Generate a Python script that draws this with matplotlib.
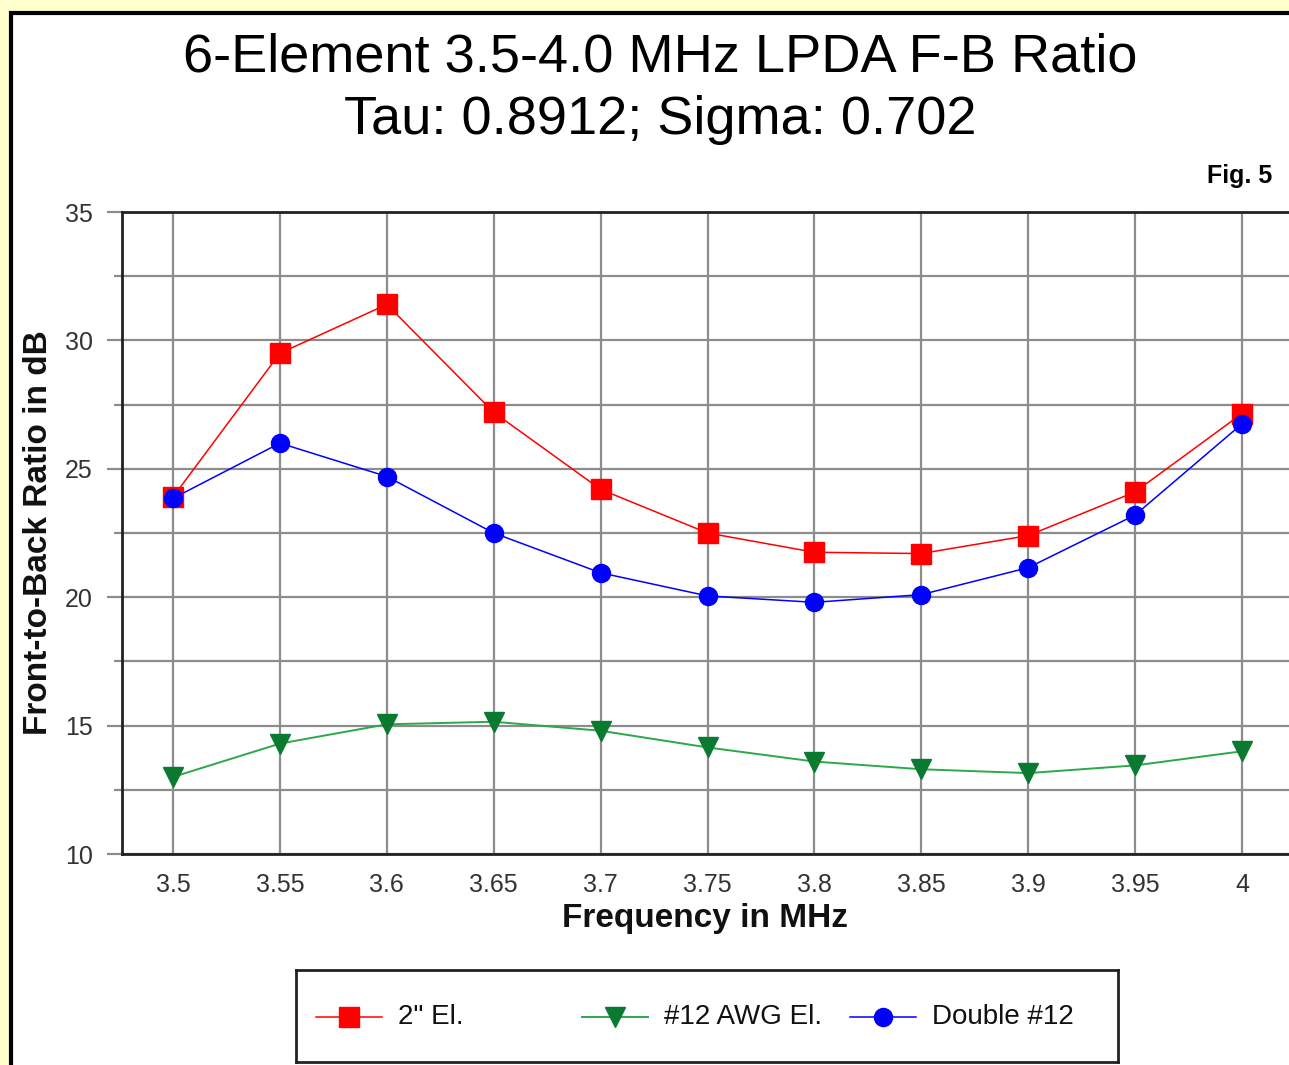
import matplotlib
matplotlib.use("Agg")
import matplotlib.pyplot as plt
from matplotlib.patches import Rectangle
from matplotlib.lines import Line2D

freq = [3.5, 3.55, 3.6, 3.65, 3.7, 3.75, 3.8, 3.85, 3.9, 3.95, 4.0]
el_2in = [23.9, 29.5, 31.4, 27.2, 24.2, 22.5, 21.75, 21.7, 22.4, 24.1, 27.15]
awg12 = [13.0, 14.3, 15.05, 15.15, 14.8, 14.15, 13.6, 13.3, 13.15, 13.45, 14.0]
double12 = [23.85, 26.0, 24.7, 22.5, 20.95, 20.05, 19.8, 20.1, 21.15, 23.2, 26.75]
xticks = [3.5, 3.55, 3.6, 3.65, 3.7, 3.75, 3.8, 3.85, 3.9, 3.95, 4.0]
xtick_labels = ["3.5", "3.55", "3.6", "3.65", "3.7", "3.75", "3.8", "3.85", "3.9", "3.95", "4"]
yticks = [10, 15, 20, 25, 30, 35]
labels = ['2" El.', '#12 AWG El.', 'Double #12']

plt.rcParams['font.family'] = ['Liberation Sans', 'DejaVu Sans']

W, H = 1289, 1065
fig = plt.figure(figsize=(W / 100, H / 100), dpi=100)
fig.patch.set_facecolor('#FFFFCC')

# white panel with black border
panel = Rectangle((11 / W, -0.02), 1 - 11 / W + 0.02, 1.02 - 13 / H, transform=fig.transFigure,
                  facecolor='white', edgecolor='black', linewidth=3, zorder=-5)
fig.patches.append(panel)

fig.text(660 / W, 1 - 57 / H, "6-Element 3.5-4.0 MHz LPDA F-B Ratio", ha='center', va='center',
         fontsize=39)
fig.text(660 / W, 1 - 120 / H, "Tau: 0.8912; Sigma: 0.702", ha='center', va='center', fontsize=39)
fig.text(1272 / W, 1 - 176 / H, "Fig. 5", ha='right', va='center', fontsize=18, fontweight='bold')

px = 2138.0  # pixels per MHz
xl = 3.5 - (173 - 122) / px
xr = 4.0 + (1289 - 1242) / px
ax = fig.add_axes([122 / W, 1 - 854 / H, 1 - 122 / W, (854 - 212) / H])
ax.set_facecolor('none')
ax.set_xlim(xl, xr)
ax.set_ylim(10, 35)

ax.set_xticks(xticks)
ax.set_xticklabels(xtick_labels)
ax.set_yticks(yticks)
ax.set_yticks([12.5, 17.5, 22.5, 27.5, 32.5], minor=True)
ax.grid(True, which='both', color='#8c8c8c', linewidth=1.6, zorder=1)
ax.tick_params(axis='x', length=0, pad=14, labelsize=18, labelcolor='#333333')
ax.tick_params(axis='y', which='major', length=11, width=1.6, color='#8c8c8c', pad=10,
               labelsize=18, labelcolor='#333333')
ax.tick_params(axis='y', which='minor', length=6, width=1.6, color='#8c8c8c')
for s in ['left', 'bottom', 'top']:
    ax.spines[s].set_color('#222222')
    ax.spines[s].set_linewidth(2)
ax.spines['right'].set_visible(False)
ax.set_axisbelow(True)

red = '#FF0000'
green_line = '#2BA84A'
green_mk = '#0A7A30'
blue = '#0000FF'

ax.plot(freq, el_2in, color=red, lw=1.1, marker='s', ms=14, mfc=red, mec=red, zorder=3,
        clip_on=False)
ax.plot(freq, awg12, color=green_line, lw=1.4, marker='v', ms=15, mfc=green_mk, mec=green_mk,
        zorder=3, clip_on=False)
ax.plot(freq, double12, color=blue, lw=1.1, marker='o', ms=13, mfc=blue, mec=blue, zorder=4,
        clip_on=False)

ax.set_xlabel("Frequency in MHz", fontsize=24, fontweight='bold', labelpad=4, color='#111111')
ax.set_ylabel("Front-to-Back Ratio in dB", fontsize=24, fontweight='bold', labelpad=8,
              color='#111111')

# legend box
lx0, ly0, lx1, ly1 = 296, 970, 1118, 1062
lax = fig.add_axes([lx0 / W, 1 - ly1 / H, (lx1 - lx0) / W, (ly1 - ly0) / H])
lax.set_xlim(lx0, lx1)
lax.set_ylim(ly1, ly0)
lax.set_xticks([])
lax.set_yticks([])
for s in lax.spines.values():
    s.set_linewidth(2)
    s.set_color('#222222')
entries = [
    (316, labels[0], red, red, 's', 14, 1.1),
    (582, labels[1], green_line, green_mk, 'v', 15, 1.4),
    (850, labels[2], blue, blue, 'o', 13, 1.1),
]
yc = 1017
for x0, lab, lc, mc, mk, ms, lw in entries:
    lax.add_line(Line2D([x0, x0 + 66], [yc, yc], color=lc, lw=lw))
    lax.add_line(Line2D([x0 + 33], [yc], marker=mk, ms=ms, mfc=mc, mec=mc, lw=0))
    lax.text(x0 + 82, yc, lab, va='center', ha='left', fontsize=20, color='#111111')

fig.savefig("out.png", dpi=100, facecolor=fig.get_facecolor())
